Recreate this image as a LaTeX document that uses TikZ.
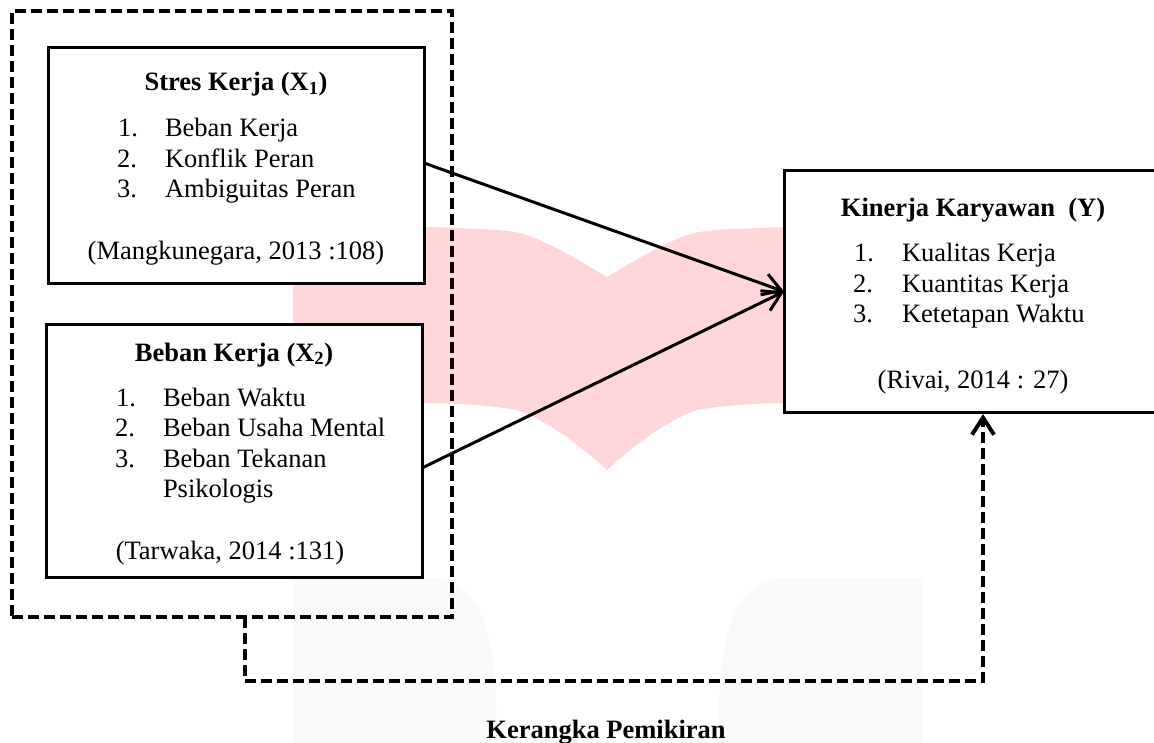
\documentclass[tikz,border=0pt]{standalone}
\usepackage{fontspec}
\setmainfont{Liberation Serif}
\usetikzlibrary{arrows.meta}
\definecolor{wmpink}{HTML}{FFD7DA}
\definecolor{wmseam}{HTML}{FFDADD}
\definecolor{wmgrey}{HTML}{F9F9F9}
\tikzset{
  x=1pt,y=-1pt,
  solidbox/.style={draw=black,line width=3pt,fill=white,rectangle,inner sep=0pt,outer sep=0pt},
  dashbox/.style={draw=black,line width=4pt,rectangle,inner sep=0pt,outer sep=0pt,dash pattern=on 11pt off 5pt},
  txt/.style={inner sep=0pt,outer sep=0pt,anchor=base west,font=\fontsize{26.5}{30}\selectfont},
  txtc/.style={inner sep=0pt,outer sep=0pt,anchor=base,font=\fontsize{26.5}{30}\selectfont},
  head/.style={txtc,font=\fontsize{26.5}{30}\selectfont\bfseries},
  link/.style={draw=black,line width=3pt,-{Straight Barb[length=18pt,width=22pt,line width=3pt]}},
  dashlink/.style={draw=black,line width=4pt,dash pattern=on 11pt off 5pt,-{Straight Barb[length=17pt,width=22pt,line width=4pt]}},
}
\begin{document}
\begin{tikzpicture}
\useasboundingbox (0,0) rectangle (1154,743);
% watermark
\fill[wmgrey] (293,578) -- (430,578) .. controls (480,582) and (497,620) .. (497,743) -- (293,743) -- cycle;
\fill[wmgrey] (923,578) -- (786,578) .. controls (736,582) and (718,620) .. (718,743) -- (923,743) -- cycle;
\fill[wmpink] (293,227) -- (425,227) .. controls (490,229) and (505,230) .. (520,233)
   .. controls (545,240) and (575,258) .. (607,277) -- (607,470)
   .. controls (575,441) and (545,420) .. (517,410) .. controls (490,405) and (450,403) .. (425,403) -- (293,403) -- cycle;
\fill[wmpink] (921,227) -- (789,227) .. controls (724,229) and (709,230) .. (694,233)
   .. controls (669,240) and (639,258) .. (607,277) -- (607,470)
   .. controls (639,441) and (669,420) .. (697,410) .. controls (724,405) and (764,403) .. (789,403) -- (921,403) -- cycle;
\draw[wmseam,line width=0.7pt] (607,277) -- (607,470);
% boxes
\node[dashbox,minimum width=440pt,minimum height=606pt] (outer) at (232,314) {};
\node[solidbox,minimum width=376pt,minimum height=236pt] (box1) at (236,166) {};
\node[solidbox,minimum width=376pt,minimum height=252pt] (box2) at (234,451) {};
\node[solidbox,minimum width=371pt,minimum height=241pt] (boxY) at (969.5,291.5) {};
% box 1 text
\node[head] (t1) at (236,91) {Stres Kerja (X\textsubscript{1})};
\node[txt] (n11) at (118,137) {1.};
\node[txt] (i11) at (165,137) {Beban Kerja};
\node[txt] (n12) at (117,168) {2.};
\node[txt] (i12) at (165,168) {Konflik Peran};
\node[txt] (n13) at (117,198) {3.};
\node[txt] (i13) at (165,198) {Ambiguitas Peran};
\node[txtc] (c1) at (236,260) {(Mangkunegara, 2013 :108)};
% box 2 text
\node[head] (t2) at (234,361) {Beban Kerja (X\textsubscript{2})};
\node[txt] (n21) at (116,406) {1.};
\node[txt] (i21) at (163,406) {Beban Waktu};
\node[txt] (n22) at (115,436) {2.};
\node[txt] (i22) at (163,436) {Beban Usaha Mental};
\node[txt] (n23) at (115,467) {3.};
\node[txt] (i23) at (163,467) {Beban Tekanan};
\node[txt] (i24) at (163,497) {Psikologis};
\node[txtc] (c2) at (230,559) {(Tarwaka, 2014 :131)};
% box Y text
\node[head] (tY) at (973,217) {Kinerja Karyawan\ \ (Y)};
\node[txt] (nY1) at (854,262) {1.};
\node[txt] (iY1) at (902,262) {Kualitas Kerja};
\node[txt] (nY2) at (853,293) {2.};
\node[txt] (iY2) at (902,293) {Kuantitas Kerja};
\node[txt] (nY3) at (853,323) {3.};
\node[txt] (iY3) at (902,323) {Ketetapan Waktu};
\node[txtc] (cY) at (973,388) {(Rivai, 2014 : 27)};
% caption
\node[head] (cap) at (606,738) {Kerangka Pemikiran};
% connectors
\draw[link] ([yshift=3pt]box1.east) -- (boxY.west);
\draw[link] ([yshift=-17pt]box2.east) -- (boxY.west);
\coordinate (turn) at (983,681);
\draw[dashlink] ([xshift=13pt]outer.south) |- (turn) -- ([xshift=13.5pt,yshift=-2pt]boxY.south);
\end{tikzpicture}
\end{document}
